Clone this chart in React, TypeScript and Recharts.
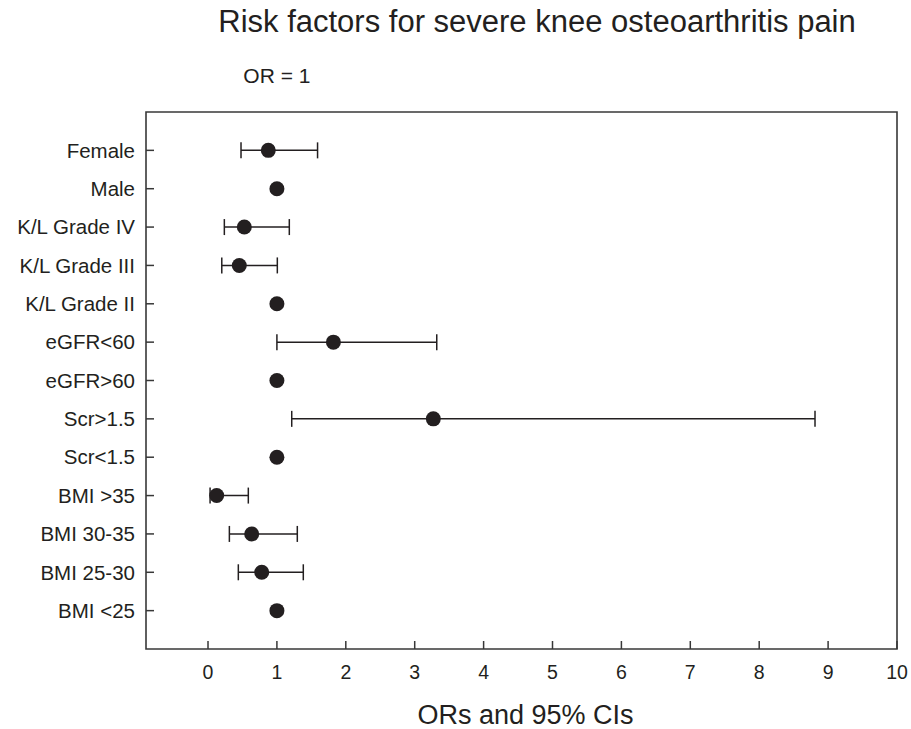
import React from 'react';
import { ScatterChart, Scatter, XAxis, YAxis, ErrorBar, ReferenceArea, ReferenceLine } from 'recharts';

const FONT = '"Liberation Sans", Arial, Helvetica, sans-serif';
const INK = '#231f20';
const FRAME = '#383838';

const categories = [
  'Female',
  'Male',
  'K/L Grade IV',
  'K/L Grade III',
  'K/L Grade II',
  'eGFR<60',
  'eGFR>60',
  'Scr>1.5',
  'Scr<1.5',
  'BMI >35',
  'BMI 30-35',
  'BMI 25-30',
  'BMI <25',
];
const oddsRatios = [0.875, 1, 0.527, 0.454, 1, 1.82, 1, 3.27, 1, 0.126, 0.634, 0.78, 1];
const ciLower = [0.479, null, 0.237, 0.2, null, 1.0, null, 1.215, null, 0.03, 0.31, 0.44, null];
const ciUpper = [1.59, null, 1.18, 1.006, null, 3.32, null, 8.81, null, 0.585, 1.296, 1.383, null];
const xTicks = [0, 1, 2, 3, 4, 5, 6, 7, 8, 9, 10];

const rows = categories.map((name, i) => ({
  name,
  row: i + 1,
  or: oddsRatios[i],
  lo: ciLower[i],
  hi: ciUpper[i],
}));
const estimateData = rows
  .filter((r) => r.lo != null && r.hi != null)
  .map((r) => ({ ...r, err: [r.or - (r.lo as number), (r.hi as number) - r.or] }));
const referenceData = rows.filter((r) => r.lo == null);

const Dot = (props: any) => {
  const { cx, cy } = props;
  if (cx == null || cy == null) return null;
  return <circle cx={cx} cy={cy} r={7.5} fill={INK} />;
};

export default function App() {
  return (
    <div
      style={{
        position: 'absolute',
        left: 0,
        top: 0,
        width: 911,
        height: 729,
        overflow: 'hidden',
        background: '#fff',
        fontFamily: FONT,
      }}
    >
      <div
        style={{
          position: 'absolute',
          left: 137,
          width: 800,
          top: 6,
          textAlign: 'center',
          fontSize: 31,
          lineHeight: '31px',
          color: INK,
          whiteSpace: 'nowrap',
        }}
      >
        Risk factors for severe knee osteoarthritis pain
      </div>
      <ScatterChart width={911} height={729} margin={{ top: 112, right: 14, bottom: 0, left: 0 }}>
        <XAxis
          type="number"
          dataKey="or"
          domain={[-0.9, 10]}
          ticks={xTicks}
          interval={0}
          allowDataOverflow
          height={80}
          axisLine={false}
          tickSize={-8}
          tickMargin={24}
          tickLine={{ stroke: FRAME, strokeWidth: 1.5 }}
          tick={{ fill: INK, fontSize: 19.5, fontFamily: FONT }}
          label={{ value: 'ORs and 95% CIs', position: 'insideBottom', offset: 5, dx: 4, fontSize: 27, fill: INK, fontFamily: FONT }}
        />
        <YAxis
          type="number"
          dataKey="row"
          domain={[0, 14]}
          reversed
          ticks={rows.map((r) => r.row)}
          interval={0}
          tickFormatter={(v: number) => categories[v - 1]}
          width={146}
          axisLine={false}
          tickSize={-8}
          tickMargin={19}
          tickLine={{ stroke: FRAME, strokeWidth: 1.5 }}
          tick={{ fill: INK, fontSize: 20.5, fontFamily: FONT }}
        />
        <ReferenceArea
          x1={-0.9}
          x2={10}
          y1={0}
          y2={14}
          fill="none"
          fillOpacity={0}
          stroke={FRAME}
          strokeWidth={1.6}
          ifOverflow="visible"
        />
        <ReferenceLine
          x={1}
          stroke="none"
          ifOverflow="visible"
          label={{ value: 'OR = 1', position: 'top', offset: 29, fontSize: 21, fill: INK, fontFamily: FONT }}
        />
        <Scatter data={estimateData} shape={Dot} isAnimationActive={false}>
          <ErrorBar dataKey="err" direction="x" width={8} stroke={INK} strokeWidth={1.5} />
        </Scatter>
        <Scatter data={referenceData} shape={Dot} isAnimationActive={false} />
      </ScatterChart>
    </div>
  );
}
